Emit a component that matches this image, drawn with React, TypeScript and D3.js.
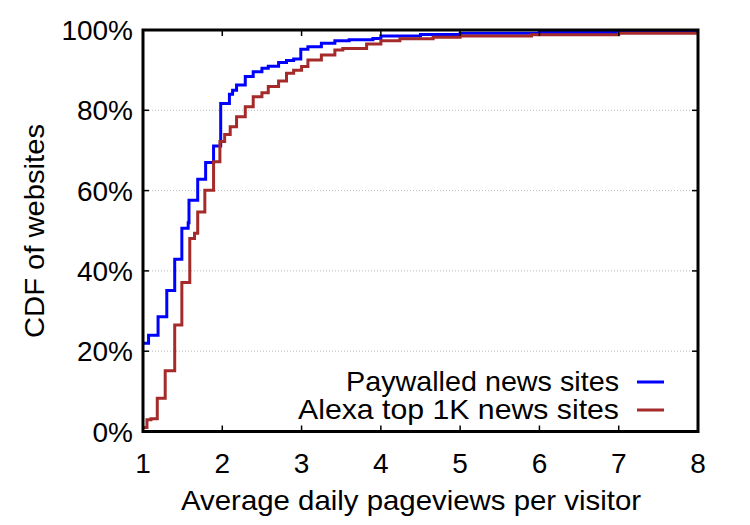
import React from "react";
import * as d3 from "d3";

const paywalledX = [1.0, 1.07, 1.19, 1.3, 1.4, 1.49, 1.57, 1.58, 1.69, 1.79, 1.89, 1.98, 2.09, 2.13, 2.18, 2.29, 2.39, 2.5, 2.58, 2.71, 2.81, 2.9, 2.99, 3.08, 3.25, 3.42, 3.6, 3.9, 4.0, 4.5, 5.0, 6.0, 7.0, 8.0];
const paywalledY = [22, 24, 28.6, 35.1, 42.9, 50.6, 52, 57.6, 62.8, 67, 71.1, 81.7, 84, 85, 86.3, 88.4, 89.6, 90.5, 91, 91.9, 92.4, 92.8, 95.2, 95.8, 96.7, 97.3, 97.6, 97.9, 98.5, 98.9, 99.2, 99.4, 99.6, 99.7];

const alexaX = [1.0, 1.05, 1.1, 1.18, 1.28, 1.4, 1.49, 1.59, 1.65, 1.69, 1.78, 1.89, 1.97, 2.03, 2.1, 2.18, 2.29, 2.39, 2.5, 2.58, 2.71, 2.81, 2.9, 3.0, 3.08, 3.25, 3.42, 3.52, 3.82, 4.0, 4.24, 4.66, 5.0, 5.9, 7.0, 8.0];
const alexaY = [1, 2.9, 3.2, 8.3, 15.1, 26.5, 37.1, 48.1, 49.4, 54.7, 60.1, 67.2, 72.2, 74, 75.9, 78.4, 80.9, 83.4, 84.4, 85.9, 87.3, 89.2, 90, 90.9, 92.5, 93.8, 95, 95.4, 96.5, 97.3, 97.8, 98.2, 98.5, 98.8, 99.2, 99.4];

const xTicks = [1, 2, 3, 4, 5, 6, 7, 8];
const yTicks = [0, 20, 40, 60, 80, 100];
const seriesNames = ["Paywalled news sites", "Alexa top 1K news sites"];
const seriesColors = ["#0000ff", "#a52a2a"];
const legendWidths = [273, 321];

const W = 750, H = 525;
const L = 143, R = 698, T = 30, B = 431.5;

export default function App() {
  const x = d3.scaleLinear().domain([1, 8]).range([L, R]);
  const y = d3.scaleLinear().domain([0, 100]).range([B, T]);
  const line = d3.line<[number, number]>().x(d => x(d[0])).y(d => y(d[1])).curve(d3.curveStepAfter);
  const series = [
    paywalledX.map((v, i) => [v, paywalledY[i]] as [number, number]),
    alexaX.map((v, i) => [v, alexaY[i]] as [number, number]),
  ];
  const font = "'Liberation Sans', Arial, sans-serif";
  return (
    <svg width={W} height={H} style={{ position: "absolute", left: 0, top: 0 }} fontFamily={font}>
      <rect width={W} height={H} fill="#fff" />
      {yTicks.filter(t => t > 0 && t < 100).map(t => (
        <line key={"g" + t} x1={L} x2={R} y1={y(t)} y2={y(t)} stroke="#bbb" strokeWidth={1} strokeDasharray="1,2" />
      ))}
      <clipPath id="clip"><rect x={L} y={T} width={R - L} height={B - T} /></clipPath>
      <g clipPath="url(#clip)">
        {series.map((s, i) => (
          <path key={i} d={line(s) || ""} fill="none" stroke={seriesColors[i]} strokeWidth={3} />
        ))}
      </g>
      {xTicks.map(t => (
        <g key={"x" + t}>
          <line x1={x(t)} x2={x(t)} y1={B} y2={B - 6} stroke="#000" strokeWidth={1.5} />
          <line x1={x(t)} x2={x(t)} y1={T} y2={T + 6} stroke="#000" strokeWidth={1.5} />
          <text x={x(t)} y={473} textAnchor="middle" fontSize={28}>{t}</text>
        </g>
      ))}
      {yTicks.map(t => (
        <g key={"y" + t}>
          <line x1={L} x2={L + 6} y1={y(t)} y2={y(t)} stroke="#000" strokeWidth={1.5} />
          <line x1={R} x2={R - 6} y1={y(t)} y2={y(t)} stroke="#000" strokeWidth={1.5} />
          <text x={133} y={y(t) + 10} textAnchor="end" fontSize={28}>{t}%</text>
        </g>
      ))}
      <rect x={L} y={T} width={R - L} height={B - T} fill="none" stroke="#000" strokeWidth={3} />
      <text x={411} y={510} textAnchor="middle" fontSize={28} textLength={460} lengthAdjust="spacingAndGlyphs">Average daily pageviews per visitor</text>
      <text transform={`translate(44, 231) rotate(-90)`} textAnchor="middle" fontSize={28} textLength={214} lengthAdjust="spacingAndGlyphs">CDF of websites</text>
      {seriesNames.map((n, i) => (
        <g key={n}>
          <text x={619} y={391 + i * 28} textAnchor="end" fontSize={28} textLength={legendWidths[i]} lengthAdjust="spacingAndGlyphs">{n}</text>
          <line x1={637} x2={664} y1={382 + i * 28} y2={382 + i * 28} stroke={seriesColors[i]} strokeWidth={3} />
        </g>
      ))}
    </svg>
  );
}
